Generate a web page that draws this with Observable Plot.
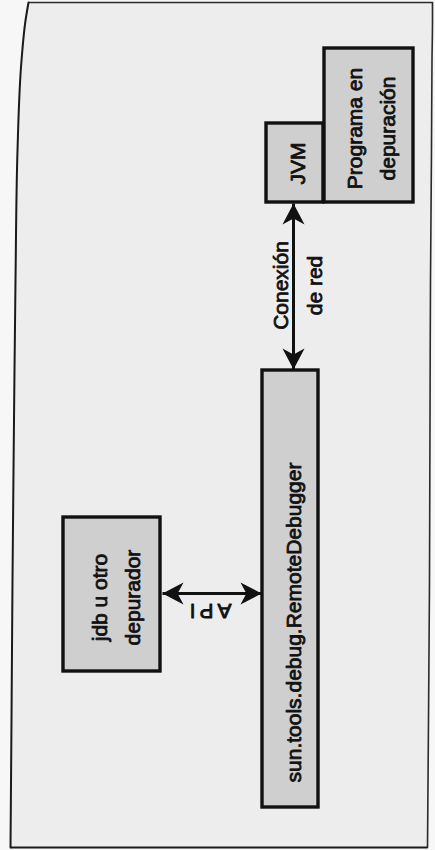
<!DOCTYPE html>
<html>
<head>
<meta charset="utf-8">
<script src="https://cdn.jsdelivr.net/npm/d3@7"></script>
<script src="https://cdn.jsdelivr.net/npm/@observablehq/plot@0.6"></script>
<style>
  html, body { margin: 0; padding: 0; background: #f7f7f7; }
  #chart svg { display: block; }
  .api-label text { letter-spacing: 4px; }
</style>
</head>
<body>
<div id="chart"></div>
<script>
// Diagram nodes (layout units of the scanned page)
const boxNames  = ["Programa en\ndepuración", "JVM", "sun.tools.debug.RemoteDebugger", "jdb u otro\ndepurador"];
const boxLeft   = [324, 266, 262, 63];
const boxRight  = [413, 323, 318, 160];
const boxTop    = [48, 123, 370, 517];
const boxBottom = [202, 202, 807, 671];
const labelX    = [367, 294, 290, 112];
const labelY    = [128, 163, 622, 597];

// Connections (double-headed arrows)
const linkNames = ["Conexión\nde red", "API"];
const linkX1 = [293, 162];
const linkY1 = [203, 593];
const linkX2 = [293, 261];
const linkY2 = [369, 593];
const linkLabelX = [294, 208];
const linkLabelY = [285, 610];
const linkLabelRotate = [-90, 180];

// Page frame of the scan
const frameY      = [2, 20, 60, 150, 280, 420, 580, 720, 847];
const frameLeftX  = [28, 25, 21, 17, 15, 13.5, 12, 11, 10];
const frameRightX = [432, 432, 431.5, 431, 430, 429.5, 429, 428, 427];

const boxes = boxNames.map((name, i) => ({
  name, x1: boxLeft[i], x2: boxRight[i], y1: boxTop[i], y2: boxBottom[i], lx: labelX[i], ly: labelY[i]
}));
const links = linkNames.map((name, i) => ({
  name, x1: linkX1[i], y1: linkY1[i], x2: linkX2[i], y2: linkY2[i],
  lx: linkLabelX[i], ly: linkLabelY[i], rot: linkLabelRotate[i]
}));
const heads = links.flatMap(d => {
  const ang = Math.atan2(d.y2 - d.y1, d.x2 - d.x1) * 180 / Math.PI; // direction from 1 to 2
  return [
    {x: d.x2, y: d.y2, rot: ang + 90},
    {x: d.x1, y: d.y1, rot: ang - 90}
  ];
});
const frame = frameY.map((y, i) => ({y, xl: frameLeftX[i], xr: frameRightX[i]}));

// Barbed arrowhead, tip at origin, pointing up
const arrowHead = {
  draw(context, size) {
    const r = Math.sqrt(size / Math.PI);
    const L = r * 2, W = r * 1.05;
    context.moveTo(0, 0);
    context.lineTo(-W, L);
    context.lineTo(0, L * 0.72);
    context.lineTo(W, L);
    context.closePath();
  }
};

const font = "'Liberation Sans', Arial, Helvetica, sans-serif";

const chart = Plot.plot({
  width: 435,
  height: 850,
  margin: 0,
  x: {domain: [0, 435], range: [0, 435], axis: null},
  y: {domain: [0, 850], range: [0, 850], axis: null},
  style: {background: "transparent"},
  marks: [
    Plot.areaX(frame, {y: "y", x1: "xl", x2: "xr", fill: "#ededed", curve: "monotone-y"}),
    Plot.line(frame, {x: "xl", y: "y", stroke: "#1a1a1a", strokeWidth: 2, curve: "monotone-y"}),
    Plot.line(frame, {x: "xr", y: "y", stroke: "#2a2a2a", strokeWidth: 1.6, curve: "monotone-y"}),
    Plot.link([frame[0]], {x1: "xl", y1: "y", x2: "xr", y2: "y", stroke: "#2a2a2a", strokeWidth: 1.6}),
    Plot.link([frame[frame.length - 1]], {x1: "xl", y1: "y", x2: "xr", y2: "y", stroke: "#1a1a1a", strokeWidth: 2}),
    Plot.rect(boxes, {x1: "x1", x2: "x2", y1: "y1", y2: "y2", fill: "#cfcfcf", stroke: "#111", strokeWidth: 3.4}),
    Plot.text(boxes, {x: "lx", y: "ly", text: "name", rotate: -90, fontSize: 21, lineHeight: 1.57,
      fontFamily: font, fill: "#111", stroke: "#111", strokeWidth: 0.8}),
    Plot.link(links, {x1: "x1", y1: "y1", x2: "x2", y2: "y2", stroke: "#111", strokeWidth: 3}),
    Plot.dot(heads, {x: "x", y: "y", rotate: "rot", symbol: arrowHead, r: 10.5, fill: "#111", stroke: "none"}),
    Plot.text(links.filter(d => d.name !== "API"), {x: "lx", y: "ly", text: "name", rotate: "rot", fontSize: 21, lineHeight: 1.6,
      fontFamily: font, fill: "#111", stroke: "#111", strokeWidth: 0.8}),
    Plot.text(links.filter(d => d.name === "API"), {x: "lx", y: "ly", text: "name", rotate: "rot", fontSize: 21,
      fontFamily: font, fill: "#111", stroke: "#111", strokeWidth: 0.8, className: "api-label"})
  ]
});
document.getElementById("chart").appendChild(chart);
</script>
</body>
</html>
